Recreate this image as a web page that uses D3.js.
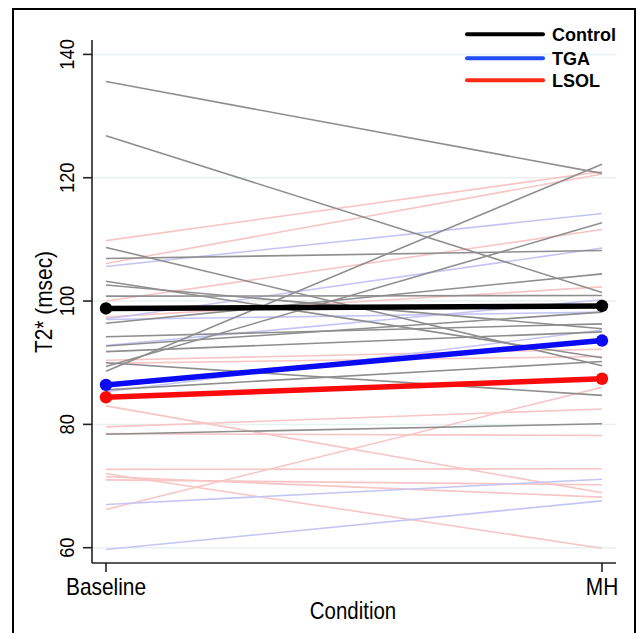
<!DOCTYPE html>
<html>
<head>
<meta charset="utf-8">
<script src="https://cdn.jsdelivr.net/npm/d3@7"></script>
<style>
  body { margin: 0; background: #fff; }
  text { font-family: 'Liberation Sans', Arial, sans-serif; }
</style>
</head>
<body>
<svg id="chart" width="638" height="633"></svg>
<script>
// MARK: Data.

const conditions = ['Baseline', 'MH']
const yTicks     = [60, 80, 100, 120, 140]
const groups     = ['Control', 'TGA', 'LSOL']

// [baseline, MH] per subject
const controlSubjects = [
  [135.6, 120.7], [126.8, 101.4], [108.7, 89.5], [106.9, 108.2],
  [103.2, 90.8], [102.6, 95.5], [100.8, 100.9], [96.4, 104.4],
  [94.2, 96.3], [92.7, 98.2], [91.8, 95.0], [90.0, 84.7],
  [89.4, 112.7], [88.6, 122.2], [85.6, 90.2], [78.4, 80.1],
]
const tgaSubjects = [
  [105.6, 114.2], [97.1, 108.6], [92.8, 100.2], [97.0, 98.2],
  [85.3, 95.3], [67.0, 71.1], [59.7, 67.6],
]
const lsolSubjects = [
  [109.8, 121.0], [106.1, 120.6], [100.0, 111.6], [97.4, 102.3],
  [90.4, 92.2], [89.9, 91.0], [83.0, 68.9], [79.6, 82.5],
  [78.5, 78.2], [72.7, 72.8], [72.0, 59.9], [71.0, 70.2],
  [71.5, 68.2], [66.2, 86.0],
]

const controlMean = [98.8, 99.2]
const tgaMean     = [86.4, 93.6]
const lsolMean    = [84.4, 87.4]

// MARK: Layout.

const svg = d3.select('#chart')
const AXIS_X   = 92
const AXIS_Y   = 563
const AXIS_TOP = 40
const AXIS_END = 616
const SX       = 0.87   // the original lettering is narrow

const x = d3.scalePoint().domain(conditions).range([106, 602])
const y = d3.scaleLinear().domain([60, 140]).range([547.7, 54.4])

// outer frame
svg.append('rect')
  .attr('x', 13).attr('y', 9)
  .attr('width', 622).attr('height', 660)
  .attr('fill', 'none').attr('stroke', '#000').attr('stroke-width', 2)

// grid lines
svg.append('g').selectAll('line')
  .data(yTicks).enter().append('line')
  .attr('x1', AXIS_X).attr('x2', AXIS_END)
  .attr('y1', (d) => y(d)).attr('y2', (d) => y(d))
  .attr('stroke', '#e8f0f1').attr('stroke-width', 1.5)

// MARK: Subject lines.

const line = d3.line().x((d, i) => x(conditions[i])).y((d) => y(d))

function drawSubjects(data, color, width) {
  svg.append('g').selectAll('path')
    .data(data).enter().append('path')
    .attr('d', line)
    .attr('fill', 'none')
    .attr('stroke', color)
    .attr('stroke-width', width)
}

drawSubjects(lsolSubjects, '#f8c4c4', 1.6)
drawSubjects(tgaSubjects, '#c4c4f6', 1.6)
drawSubjects(controlSubjects, '#8e8e8e', 1.6)

// MARK: Group means.

function drawMean(values, color) {
  const g = svg.append('g')
  g.append('path')
    .attr('d', line(values))
    .attr('fill', 'none')
    .attr('stroke', color)
    .attr('stroke-width', 5.5)
  g.selectAll('circle')
    .data(values).enter().append('circle')
    .attr('cx', (d, i) => x(conditions[i]))
    .attr('cy', (d) => y(d))
    .attr('r', 6.2)
    .attr('fill', color)
}

drawMean(controlMean, '#000000')
drawMean(tgaMean, '#0a0af5')
drawMean(lsolMean, '#fa0a0a')

// MARK: Axes.

const yAxis = svg.append('g')
yAxis.append('line')
  .attr('x1', AXIS_X).attr('x2', AXIS_X)
  .attr('y1', AXIS_TOP).attr('y2', AXIS_Y)
  .attr('stroke', '#222').attr('stroke-width', 1.6)
yAxis.selectAll('.tick')
  .data(yTicks).enter().append('line')
  .attr('x1', AXIS_X - 9).attr('x2', AXIS_X)
  .attr('y1', (d) => y(d)).attr('y2', (d) => y(d))
  .attr('stroke', '#222').attr('stroke-width', 1.6)
yAxis.selectAll('text')
  .data(yTicks).enter().append('text')
  .attr('transform', (d) => `translate(74,${y(d)}) rotate(-90) scale(${SX},1)`)
  .attr('text-anchor', 'middle')
  .attr('font-size', 21)
  .text((d) => d)

const xAxis = svg.append('g')
xAxis.append('line')
  .attr('x1', AXIS_X).attr('x2', AXIS_END)
  .attr('y1', AXIS_Y).attr('y2', AXIS_Y)
  .attr('stroke', '#222').attr('stroke-width', 1.6)
xAxis.selectAll('.tick')
  .data(conditions).enter().append('line')
  .attr('x1', (d) => x(d)).attr('x2', (d) => x(d))
  .attr('y1', AXIS_Y).attr('y2', AXIS_Y + 9)
  .attr('stroke', '#222').attr('stroke-width', 1.6)
xAxis.selectAll('text')
  .data(conditions).enter().append('text')
  .attr('transform', (d) => `translate(${x(d)},594.5) scale(${SX},1)`)
  .attr('text-anchor', 'middle')
  .attr('font-size', 24)
  .text((d) => d)

svg.append('text')
  .attr('transform', `translate(353,619) scale(${SX},1)`)
  .attr('text-anchor', 'middle')
  .attr('font-size', 23.5)
  .text('Condition')

svg.append('text')
  .attr('transform', `translate(52,302) rotate(-90) scale(${SX},1)`)
  .attr('text-anchor', 'middle')
  .attr('font-size', 24)
  .text('T2* (msec)')

// MARK: Legend.

const legendColors = ['#000000', '#1e4cf8', '#fb2a14']
const legendY      = [34.3, 58.3, 80.3]

const legend = svg.append('g').selectAll('g')
  .data(groups).enter().append('g')
  .attr('transform', (d, i) => `translate(0,${legendY[i]})`)
legend.append('line')
  .attr('x1', 467).attr('x2', 543)
  .attr('stroke', (d, i) => legendColors[i])
  .attr('stroke-width', 4)
  .attr('stroke-linecap', 'round')
legend.append('text')
  .attr('x', 552).attr('y', 6.5)
  .attr('font-size', 18)
  .attr('font-weight', 'bold')
  .text((d) => d)
</script>
</body>
</html>
